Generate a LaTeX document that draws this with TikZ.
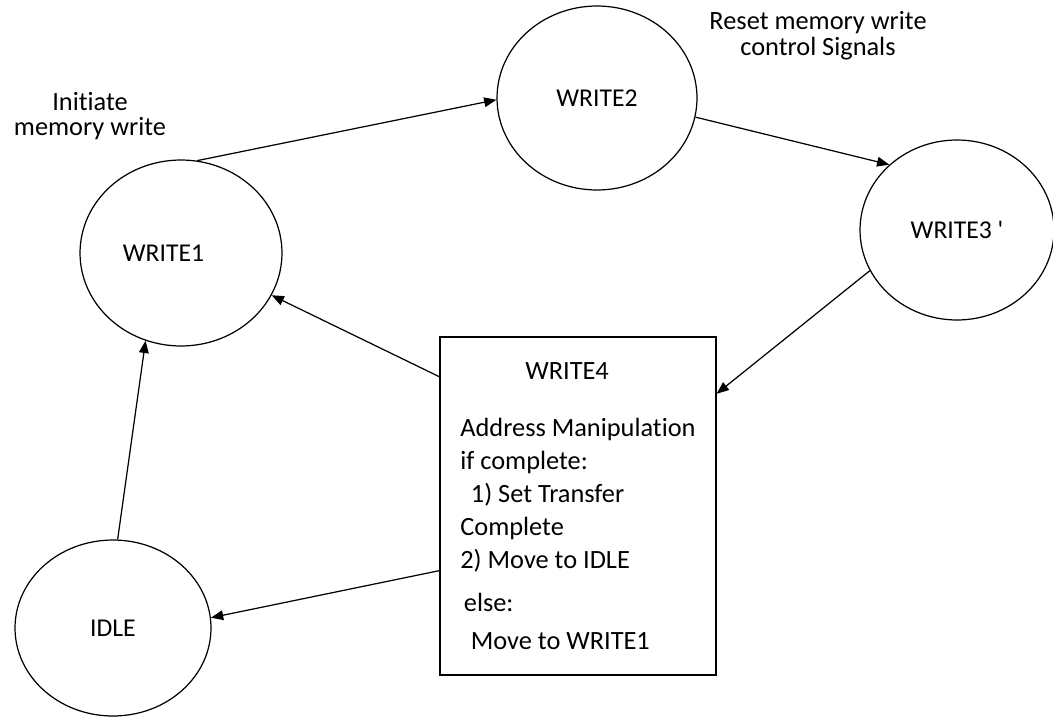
\documentclass[tikz,border=0pt]{standalone}
\usepackage{fontspec}
\setmainfont[Ligatures={TeX,NoCommon}]{Carlito}
\usetikzlibrary{shapes.geometric,arrows.meta}

\begin{document}
\begin{tikzpicture}[x=0.02cm,y=-0.02cm,
        state/.style={draw, ellipse, line width=0.7pt, inner sep=0pt,
            font=\fontsize{14.6}{16}\selectfont},
        statebox/.style={draw, rectangle, line width=0.7pt, align=left,
            minimum width=5.52cm, minimum height=6.76cm,
            font=\fontsize{15}{18.7}\selectfont},
        note/.style={align=center, font=\fontsize{15}{14.6}\selectfont},
        trans/.style={line width=0.7pt, -{Triangle[length=7pt,width=5.5pt]}}]
                \useasboundingbox (0,0) rectangle (1053,716);
                % states
                \node[state, minimum width=4.04cm, minimum height=3.72cm,
                    label={[font=\fontsize{14.6}{16}\selectfont, xshift=-10pt]center:WRITE1}] (write1) at (181,253) {};
                \node[state, minimum width=4cm, minimum height=3.68cm] (write2) at (597,98) {WRITE2};
                \node[state, minimum width=3.88cm, minimum height=3.6cm] (write3) at (957,230) {WRITE3 \textquotesingle};
                \node[state, minimum width=3.92cm, minimum height=3.52cm] (idle) at (113,628) {IDLE};
                \node[statebox] (write4) at (578,506) {\hspace*{37pt}WRITE4\\[14pt]
                    Address Manipulation\\
                    if complete:\\
                    \hspace*{6pt}1) Set Transfer\\
                    Complete\\
                    2) Move to IDLE\\[6.2pt]
                    \hspace*{2pt}else:\\[2.8pt]
                    \hspace*{6pt}Move to WRITE1};
                % notes
                \node[note] (initnote) at (90,116) {Initiate\\memory write};
                \node[note] (resetnote) at (818,36) {Reset memory write\\control Signals};
                % transitions
                \draw[trans] (write1.80) -- (write2.181);
                \draw[trans] (write2.349) -- (write3.136);
                \draw[trans] (write3.205) -- (write4.39);
                \draw[trans] (write4.137) -- (write1.335);
                \draw[trans] (write4.205.6) -- (idle.6);
                \draw[trans] (idle.87) -- (write1.248);
\end{tikzpicture}
\end{document}
